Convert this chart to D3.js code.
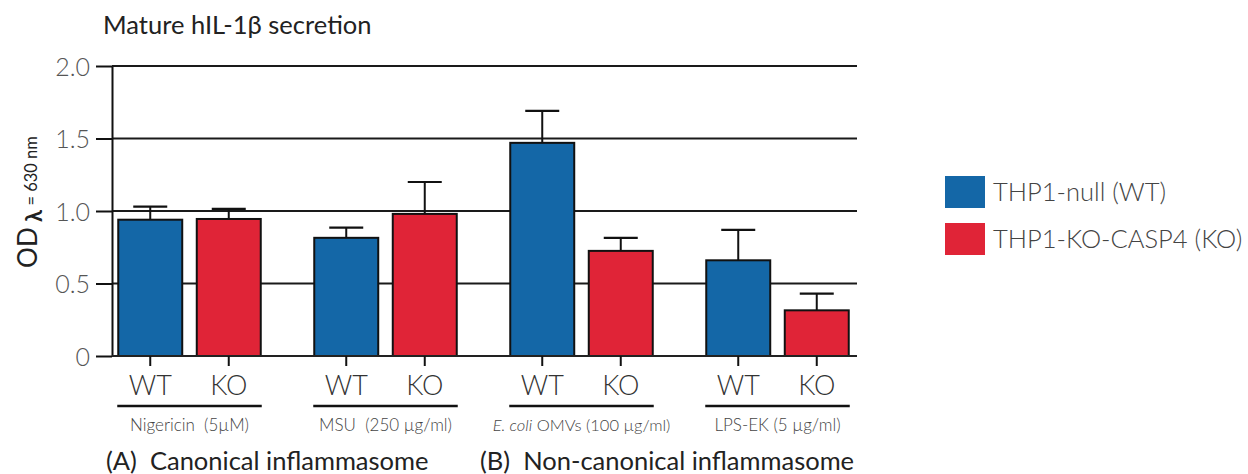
<!DOCTYPE html>
<html>
<head>
<meta charset="utf-8">
<script src="https://cdn.jsdelivr.net/npm/d3@7"></script>
<style>
  body { margin: 0; background: #fff; }
  text { font-family: Lato, "Open Sans", sans-serif; }
</style>
</head>
<body>
<svg id="chart" width="1248" height="474"></svg>
<script>
// data
const groups = ["Nigericin", "MSU", "OMVs", "LPS-EK"];
const strains = ["WT", "KO"];
const wtValues = [0.94, 0.815, 1.47, 0.66];
const koValues = [0.945, 0.98, 0.725, 0.315];
const wtErr = [0.09, 0.07, 0.22, 0.21];
const koErr = [0.07, 0.22, 0.09, 0.115];
const yTicks = [0, 0.5, 1.0, 1.5, 2.0];
const legendLabels = ["THP1-null (WT)", "THP1-KO-CASP4 (KO)"];
const colors = ["#1467a7", "#e02437"];

const svg = d3.select("#chart");
const plotLeft = 112, plotRight = 857, plotTop = 66, plotBottom = 356;

const y = d3.scaleLinear().domain([0, 2]).range([plotBottom, plotTop]);
const x0 = d3.scaleBand().domain(groups).range([91.5, 875.5]).padding(0);
const x1 = d3.scaleBand().domain(strains).range([26.75, 169.25]).paddingInner(0.185).paddingOuter(0);

// grid lines
svg.append("g").selectAll("line")
  .data(yTicks.filter(d => d > 0))
  .enter().append("line")
  .attr("x1", plotLeft).attr("x2", plotRight)
  .attr("y1", d => y(d)).attr("y2", d => y(d))
  .attr("stroke", "#1a1a1a").attr("stroke-width", 1.8);

// data rows
const rows = [];
groups.forEach((g, i) => {
  rows.push({g: g, s: "WT", v: wtValues[i], e: wtErr[i], c: colors[0]});
  rows.push({g: g, s: "KO", v: koValues[i], e: koErr[i], c: colors[1]});
});

// error bars (drawn under the bars)
const err = svg.append("g").selectAll("g").data(rows).enter().append("g")
  .attr("transform", d => `translate(${x0(d.g) + x1(d.s) + x1.bandwidth() / 2},0)`);
err.append("line").attr("x1", 0).attr("x2", 0)
  .attr("y1", d => y(d.v)).attr("y2", d => y(d.v + d.e))
  .attr("stroke", "#111").attr("stroke-width", 2);
err.append("line").attr("x1", -17).attr("x2", 17)
  .attr("y1", d => y(d.v + d.e)).attr("y2", d => y(d.v + d.e))
  .attr("stroke", "#111").attr("stroke-width", 2.2);

// bars
svg.append("g").selectAll("rect").data(rows).enter().append("rect")
  .attr("x", d => x0(d.g) + x1(d.s))
  .attr("width", x1.bandwidth())
  .attr("y", d => y(d.v))
  .attr("height", d => plotBottom - y(d.v))
  .attr("fill", d => d.c)
  .attr("stroke", "#111").attr("stroke-width", 2);

// y axis
const yAxis = svg.append("g").attr("transform", `translate(${plotLeft},0)`)
  .call(d3.axisLeft(y).tickValues(yTicks).tickSize(16).tickSizeOuter(0)
    .tickFormat(d => d === 0 ? "0" : d3.format(".1f")(d)));
yAxis.select(".domain").attr("stroke", "#111").attr("stroke-width", 2);
yAxis.selectAll(".tick line").attr("stroke", "#111").attr("stroke-width", 2);
yAxis.selectAll(".tick text").attr("x", -22).attr("dy", "0.36em")
  .attr("font-size", 25).attr("font-weight", 300).attr("fill", "#555")
  .style("font-family", "Lato, sans-serif");

// baseline
svg.append("line").attr("x1", plotLeft).attr("x2", plotRight)
  .attr("y1", plotBottom).attr("y2", plotBottom)
  .attr("stroke", "#222").attr("stroke-width", 2);

// x ticks and WT / KO labels
const xg = svg.append("g").selectAll("g").data(rows).enter().append("g")
  .attr("transform", d => `translate(${x0(d.g) + x1(d.s) + x1.bandwidth() / 2},${plotBottom})`);
xg.append("line").attr("y1", 0).attr("y2", 10).attr("stroke", "#111").attr("stroke-width", 2);
xg.append("text").attr("y", 39).attr("text-anchor", "middle")
  .attr("font-size", 27).attr("font-weight", 300).attr("fill", "#333")
  .text(d => d.s);

// group underlines + treatment labels
const treat = svg.append("g").selectAll("g").data(groups).enter().append("g")
  .attr("transform", d => `translate(${x0(d)},0)`);
treat.append("line")
  .attr("x1", x1("WT") - 1).attr("x2", x1("KO") + x1.bandwidth() + 1)
  .attr("y1", 406).attr("y2", 406)
  .attr("stroke", "#111").attr("stroke-width", 2.4);
const tl = treat.append("text")
  .attr("x", x0.bandwidth() / 2).attr("y", 431).attr("text-anchor", "middle")
  .attr("font-size", 17).attr("font-weight", 300).attr("fill", "#444");
tl.each(function(d) {
  const t = d3.select(this);
  if (d === "Nigericin") t.attr("xml:space", "preserve").text("Nigericin  (5µM)");
  if (d === "MSU") t.attr("xml:space", "preserve").text("MSU  (250 µg/ml)");
  if (d === "OMVs") {
    t.attr("font-size", 16.5);
    t.append("tspan").attr("font-style", "italic").text("E. coli");
    t.append("tspan").text(" OMVs (100 µg/ml)");
  }
  if (d === "LPS-EK") t.text("LPS-EK (5 µg/ml)");
});

// section labels
svg.append("text").attr("x", 106).attr("y", 470).attr("xml:space", "preserve")
  .attr("font-size", 25.5).attr("fill", "#222").text("(A)  Canonical inflammasome");
svg.append("text").attr("x", 480).attr("y", 470).attr("xml:space", "preserve")
  .attr("font-size", 25.5).attr("fill", "#222").text("(B)  Non-canonical inflammasome");

// title
svg.append("text").attr("x", 103).attr("y", 34)
  .attr("font-size", 25.5).attr("fill", "#222").text("Mature hIL-1β secretion");

// y title
const yt = svg.append("text")
  .attr("transform", "translate(37,202) rotate(-90)")
  .attr("text-anchor", "middle").attr("fill", "#222");
yt.append("tspan").attr("font-size", 26).text("OD");
yt.append("tspan").attr("font-size", 22).attr("font-weight", "bold").attr("dy", 5).text(" λ");
yt.append("tspan").attr("font-size", 16.5).attr("dy", -5).text(" = 630 nm");

// legend
const leg = svg.append("g").selectAll("g").data(legendLabels).enter().append("g")
  .attr("transform", (d, i) => `translate(945,${176 + i * 47})`);
leg.append("rect").attr("width", 40).attr("height", 32).attr("fill", (d, i) => colors[i]);
leg.append("text").attr("x", 48).attr("y", 16).attr("dy", "0.35em")
  .attr("font-size", 25.5).attr("font-weight", 300).attr("fill", "#444").text(d => d);
</script>
</body>
</html>
